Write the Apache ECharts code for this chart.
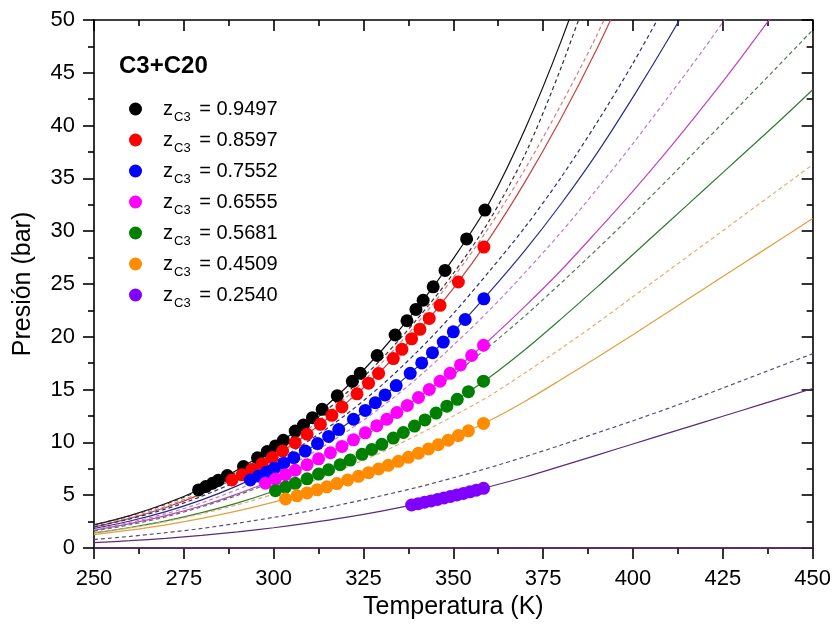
<!DOCTYPE html>
<html><head><meta charset="utf-8">
<script src="https://cdn.jsdelivr.net/npm/echarts@6/dist/echarts.min.js"></script>
<style>html,body{margin:0;padding:0;background:#fff}#c{width:834px;height:630px}</style>
</head><body><div id="c"></div>
<script>
// ---- model curve sample temperatures (K) ----
const lineT = [250,260,270,280,290,300,310,320,330,340,350,360,370,380,390,400,410,420,430,440,450];
// ---- model curves (bar), solid and dashed ----
const blackSolid   = [2.19,3.07,4.21,5.64,7.41,9.56,12.12,15.15,18.68,22.76,27.41,32.7,39.7,48.0,57.5,null,null,null,null,null,null];
const blackDashed  = [2.2,3.05,4.15,5.55,7.25,9.3,11.75,14.6,17.9,21.7,26.0,31.0,37.3,45.5,55.0,null,null,null,null,null,null];
const redSolid     = [2.00,2.81,3.84,5.13,6.72,8.64,10.94,13.67,16.81,20.44,24.58,29.3,34.7,40.7,47.3,54.6,null,null,null,null,null];
const redDashed    = [2.05,2.88,3.95,5.3,6.95,8.95,11.35,14.2,17.5,21.3,25.6,30.4,35.9,42.0,48.6,56.2,null,null,null,null,null];
const blueSolid    = [1.85,2.56,3.45,4.56,5.91,7.52,9.43,11.65,14.22,17.15,20.47,24.2,28.2,32.6,37.4,42.7,48.3,54.2,null,null,null];
const blueDashed   = [2.0,2.75,3.7,4.9,6.35,8.1,10.2,12.6,15.4,18.6,22.2,26.2,30.4,35.1,40.3,45.9,52.0,null,null,null,null];
const magentaSolid = [1.69,2.31,3.07,4.00,5.13,6.46,8.01,9.81,11.87,14.19,16.79,19.7,22.9,26.3,30.0,33.8,37.8,42.0,46.4,51.0,null];
const magentaDashed= [1.75,2.42,3.25,4.28,5.55,7.05,8.85,10.95,13.35,16.1,19.2,22.5,26.1,29.9,34.0,38.3,42.8,47.4,52.2,null,null];
const greenSolid   = [1.43,1.94,2.57,3.35,4.27,5.37,6.65,8.12,9.80,11.70,13.83,16.15,18.8,21.7,24.7,27.8,30.9,34.0,37.1,40.2,43.4];
const greenDashed  = [1.6,2.2,2.95,3.9,5.0,6.3,7.85,9.6,11.6,13.9,16.4,19.1,22.0,25.1,28.3,31.6,35.0,38.5,42.0,45.5,49.05];
const orangeSolid  = [1.27,1.69,2.19,2.80,3.51,4.34,5.29,6.37,7.58,8.93,10.43,12.05,13.9,15.95,18.05,20.2,22.4,24.6,26.8,29.0,31.2];
const orangeDashed = [1.4,1.9,2.5,3.25,4.1,5.1,6.25,7.6,9.05,10.7,12.5,14.4,16.6,18.9,21.3,23.8,26.3,28.8,31.3,33.8,36.3];
const purpleSolid  = [0.51,0.69,0.92,1.19,1.53,1.92,2.38,2.90,3.50,4.18,4.95,5.8,6.72,7.75,8.8,9.85,10.9,11.95,13.0,14.05,15.1];
const purpleDashed = [0.8,1.1,1.45,1.85,2.35,2.9,3.5,4.2,4.95,5.75,6.65,7.6,8.65,9.75,10.9,12.05,13.25,14.5,15.8,17.1,18.4];
const zeroLineT = [250,450];
const zeroLineP = [0,0];

// ---- experimental points ----
const blackT = [279.1,281.1,283.0,284.6,287.1,291.6,295.5,298.2,300.5,302.7,306.0,308.3,310.8,313.5,317.7,321.9,324.1,328.8,333.8,337.1,339.6,341.6,344.4,347.7,353.7,358.8];
const blackP = [5.50,5.82,6.13,6.41,6.86,7.72,8.54,9.14,9.67,10.20,11.07,11.65,12.34,13.13,14.41,15.78,16.54,18.23,20.17,21.52,22.59,23.46,24.73,26.29,29.27,32.0];
const redT = [288.4,291.2,294.0,296.8,299.6,302.5,306.0,309.3,313.0,316.2,319.0,323.2,326.4,329.2,333.3,335.7,338.4,340.7,343.3,346.3,351.4,358.5];
const redP = [6.44,6.93,7.44,7.99,8.56,9.18,9.97,10.77,11.71,12.56,13.35,14.60,15.61,16.53,17.94,18.81,19.81,20.71,21.74,22.98,25.19,28.5];
const blueT = [293.5,295.8,298.0,300.2,302.8,305.6,308.8,312.2,315.3,318.1,322.2,325.5,328.3,331.0,334.1,338.0,341.2,344.2,347.2,350.0,353.3,358.5];
const blueP = [6.44,6.81,7.18,7.56,8.03,8.55,9.18,9.89,10.57,11.21,12.19,13.03,13.76,14.50,15.38,16.54,17.53,18.50,19.50,20.47,21.64,23.6];
const magentaT = [297.7,300.5,303.3,306.0,309.3,312.5,315.8,319.0,322.2,325.5,328.7,331.5,334.3,337.2,340.3,343.3,346.3,349.1,352.0,355.1,358.4];
const magentaP = [6.13,6.53,6.94,7.36,7.89,8.44,9.02,9.62,10.24,10.91,11.58,12.19,12.83,13.50,14.25,15.01,15.79,16.54,17.34,18.23,19.2];
const greenT = [300.5,303.3,306.0,309.3,312.5,315.3,318.5,321.3,324.6,327.3,330.1,333.3,336.1,339.2,342.1,345.2,348.2,351.1,354.2,358.4];
const greenP = [5.43,5.77,6.12,6.55,7.00,7.41,7.89,8.33,8.87,9.33,9.82,10.41,10.94,11.55,12.13,12.78,13.43,14.08,14.80,15.8];
const orangeT = [303.3,306.5,309.3,312.1,314.8,317.6,320.6,323.6,326.4,329.2,331.9,334.7,337.5,340.3,343.1,345.8,348.6,351.4,354.2,358.4];
const orangeP = [4.64,4.94,5.22,5.51,5.79,6.10,6.44,6.79,7.13,7.48,7.83,8.21,8.59,8.98,9.38,9.78,10.21,10.65,11.10,11.8];
const purpleT = [338.4,340.2,342.0,343.8,345.6,347.4,349.2,351.0,352.8,354.6,356.4,358.4];
const purpleP = [4.07,4.20,4.33,4.46,4.60,4.74,4.88,5.03,5.17,5.32,5.48,5.65];

const seriesNames = ['0.9497','0.8597','0.7552','0.6555','0.5681','0.4509','0.2540'];

const groups = [
  {name: seriesNames[0], dot:'#000000', sc:'#111111', dc:'#333333', T:blackT, P:blackP, solid:blackSolid, dashed:blackDashed},
  {name: seriesNames[1], dot:'#ff0000', sc:'#c84040', dc:'#e07878', T:redT, P:redP, solid:redSolid, dashed:redDashed},
  {name: seriesNames[2], dot:'#0000ff', sc:'#2a2a8c', dc:'#2a3070', T:blueT, P:blueP, solid:blueSolid, dashed:blueDashed},
  {name: seriesNames[3], dot:'#ff00ff', sc:'#c040c0', dc:'#c478d4', T:magentaT, P:magentaP, solid:magentaSolid, dashed:magentaDashed},
  {name: seriesNames[4], dot:'#008000', sc:'#2e7d32', dc:'#4f7a5a', T:greenT, P:greenP, solid:greenSolid, dashed:greenDashed},
  {name: seriesNames[5], dot:'#ff8c00', sc:'#e0a040', dc:'#e6ad6a', T:orangeT, P:orangeP, solid:orangeSolid, dashed:orangeDashed},
  {name: seriesNames[6], dot:'#8000ff', sc:'#5b2a7a', dc:'#5a4a80', T:purpleT, P:purpleP, solid:purpleSolid, dashed:purpleDashed}
];

const FONT = 'Liberation Sans, Arial, Helvetica, sans-serif';
const pairs = (xs, ys) => xs.map((x,i)=>[x, ys[i]]).filter(p => p[1] !== null);

const series = [];
groups.forEach((g, i) => {
  series.push({type:'line', name:g.name+' solid', data:pairs(lineT, g.solid), showSymbol:false, symbol:'none', smooth:0.3, clip:true, z:2,
    lineStyle:{color:g.sc, width:1.2}, silent:true});
  series.push({type:'line', name:g.name+' dashed', data:pairs(lineT, g.dashed), showSymbol:false, symbol:'none', smooth:0.3, clip:true, z:2,
    lineStyle:{color:g.dc, width:1.2, type:[4,3]}, silent:true});
});
series.push({type:'line', name:'zero', data:pairs(zeroLineT, zeroLineP), showSymbol:false, symbol:'none', z:3, lineStyle:{color:'#6a2a80', width:1.5}, silent:true});
groups.forEach(g => {
  series.push({type:'scatter', name:g.name, data:pairs(g.T, g.P), symbol:'circle', symbolSize:13, z:5, itemStyle:{color:g.dot, opacity:1}});
});

const tickStyle = {color:'#000', width:1.6};
const chart = echarts.init(document.getElementById('c'), null, {renderer:'canvas'});
chart.setOption({
  animation:false,
  backgroundColor:'#fff',
  title:{text:'C3+C20', left:114, top:49, textStyle:{fontFamily:FONT, fontSize:24, fontWeight:'bold', color:'#000'}},
  legend:{
    data: seriesNames, orient:'vertical', left:124, top:94, itemWidth:13, itemHeight:13, itemGap:6.5, icon:'circle',
    formatter: n => '{z|z}{s|C3}{v| = ' + n + '}',
    textStyle:{fontFamily:FONT, color:'#000', fontSize:20,
      rich:{
        z:{fontFamily:FONT, fontSize:20, color:'#000', padding:[0,0,0,16]},
        s:{fontFamily:FONT, fontSize:13, color:'#000', padding:[16,3,0,1]},
        v:{fontFamily:FONT, fontSize:20, color:'#000'}
      }}
  },
  grid:{left:94, right:21, top:20, bottom:82, containLabel:false},
  xAxis:[
    {type:'value', min:250, max:450, interval:25, position:'bottom',
     name:'Temperatura (K)', nameLocation:'middle', nameGap:36,
     nameTextStyle:{fontFamily:FONT, fontSize:25, color:'#000'},
     axisLine:{show:true, onZero:false, lineStyle:tickStyle},
     axisTick:{show:true, inside:false, length:11, lineStyle:tickStyle},
     minorTick:{show:true, splitNumber:2, length:6, lineStyle:tickStyle},
     axisLabel:{fontFamily:FONT, fontSize:22, color:'#000', margin:20},
     splitLine:{show:false}, minorSplitLine:{show:false}},
    {type:'value', min:250, max:450, interval:25, position:'top',
     axisLine:{show:true, onZero:false, lineStyle:tickStyle},
     axisTick:{show:true, inside:true, length:11, lineStyle:tickStyle},
     minorTick:{show:true, splitNumber:2, length:6, lineStyle:tickStyle},
     axisLabel:{show:false}, splitLine:{show:false}}
  ],
  yAxis:[
    {type:'value', min:0, max:50, interval:5, position:'left',
     name:'Presión (bar)', nameLocation:'middle', nameGap:58, nameRotate:90,
     nameTextStyle:{fontFamily:FONT, fontSize:25, color:'#000'},
     axisLine:{show:true, onZero:false, lineStyle:tickStyle},
     axisTick:{show:true, inside:false, length:11, lineStyle:tickStyle},
     minorTick:{show:true, splitNumber:2, length:6, lineStyle:tickStyle},
     axisLabel:{fontFamily:FONT, fontSize:22, color:'#000', margin:19},
     splitLine:{show:false}},
    {type:'value', min:0, max:50, interval:5, position:'right',
     axisLine:{show:true, onZero:false, lineStyle:tickStyle},
     axisTick:{show:true, inside:true, length:11, lineStyle:tickStyle},
     minorTick:{show:true, splitNumber:2, length:6, lineStyle:tickStyle},
     axisLabel:{show:false}, splitLine:{show:false}}
  ],
  series: series
});
</script></body></html>
